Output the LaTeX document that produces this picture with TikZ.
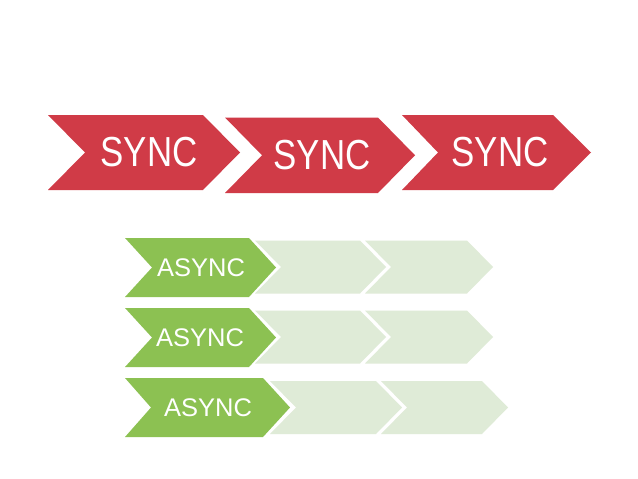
\documentclass[tikz,border=0pt]{standalone}
\usepackage{fontspec}
\setmainfont{Liberation Sans}
\definecolor{syncred}{HTML}{D03B47}
\definecolor{asyncgreen}{HTML}{8CC152}
\definecolor{paleg}{HTML}{DFEBD7}
\tikzset{
  redchev/.style={fill=syncred},
  darkchev/.style={fill=asyncgreen},
  lightchev/.style={fill=paleg},
  synclabel/.style={text=white, inner sep=0pt, font=\fontsize{42}{42}\selectfont},
  asynclabel/.style={text=white, inner sep=0pt, font=\fontsize{25.5}{25.5}\selectfont}
}
% #1 left, #2 notch x, #3 top-right x, #4 tip x, #5 top y, #6 bottom y
\newcommand{\chevpath}[6]{(#1,#5) -- (#3,#5) -- (#4,{(#5+#6)/2}) -- (#3,#6) -- (#1,#6) -- (#2,{(#5+#6)/2}) -- cycle}
\begin{document}
\begin{tikzpicture}[x=1pt,y=-1pt]
\useasboundingbox (0,0) rectangle (638,479);
\fill[white] (0,0) rectangle (638,479);
% SYNC row
\fill[redchev] \chevpath{48}{85}{203}{240}{115}{190};
\fill[redchev] \chevpath{225}{262}{378}{415}{117.5}{193};
\fill[redchev] \chevpath{402}{438}{553}{591}{115}{190};
\node[synclabel] (s1) at (149,152.5) {\scalebox{0.83}[1]{SYNC}};
\node[synclabel] (s2) at (322,155) {\scalebox{0.83}[1]{SYNC}};
\node[synclabel] (s3) at (500,152.5) {\scalebox{0.83}[1]{SYNC}};
% ASYNC row 1
\fill[lightchev] \chevpath{365}{391}{467}{493}{240.5}{293.5};
\fill[lightchev] \chevpath{255}{281}{360}{386}{240.5}{293.5};
\fill[darkchev] \chevpath{125}{152}{249}{276}{238}{297};
\node[asynclabel] (a1) at (201,267.5) {ASYNC};
% ASYNC row 2
\fill[lightchev] \chevpath{365}{391}{467}{493}{310.5}{363.5};
\fill[lightchev] \chevpath{255}{281}{360}{386}{310.5}{363.5};
\fill[darkchev] \chevpath{125}{152}{249}{276}{308}{367};
\node[asynclabel] (a2) at (200,337.5) {ASYNC};
% ASYNC row 3
\fill[lightchev] \chevpath{381}{407}{482}{508}{381}{434};
\fill[lightchev] \chevpath{270}{296}{376}{402}{381}{434};
\fill[darkchev] \chevpath{125}{151}{263}{290}{378}{437};
\node[asynclabel] (a3) at (208,407.5) {ASYNC};
\end{tikzpicture}
\end{document}
